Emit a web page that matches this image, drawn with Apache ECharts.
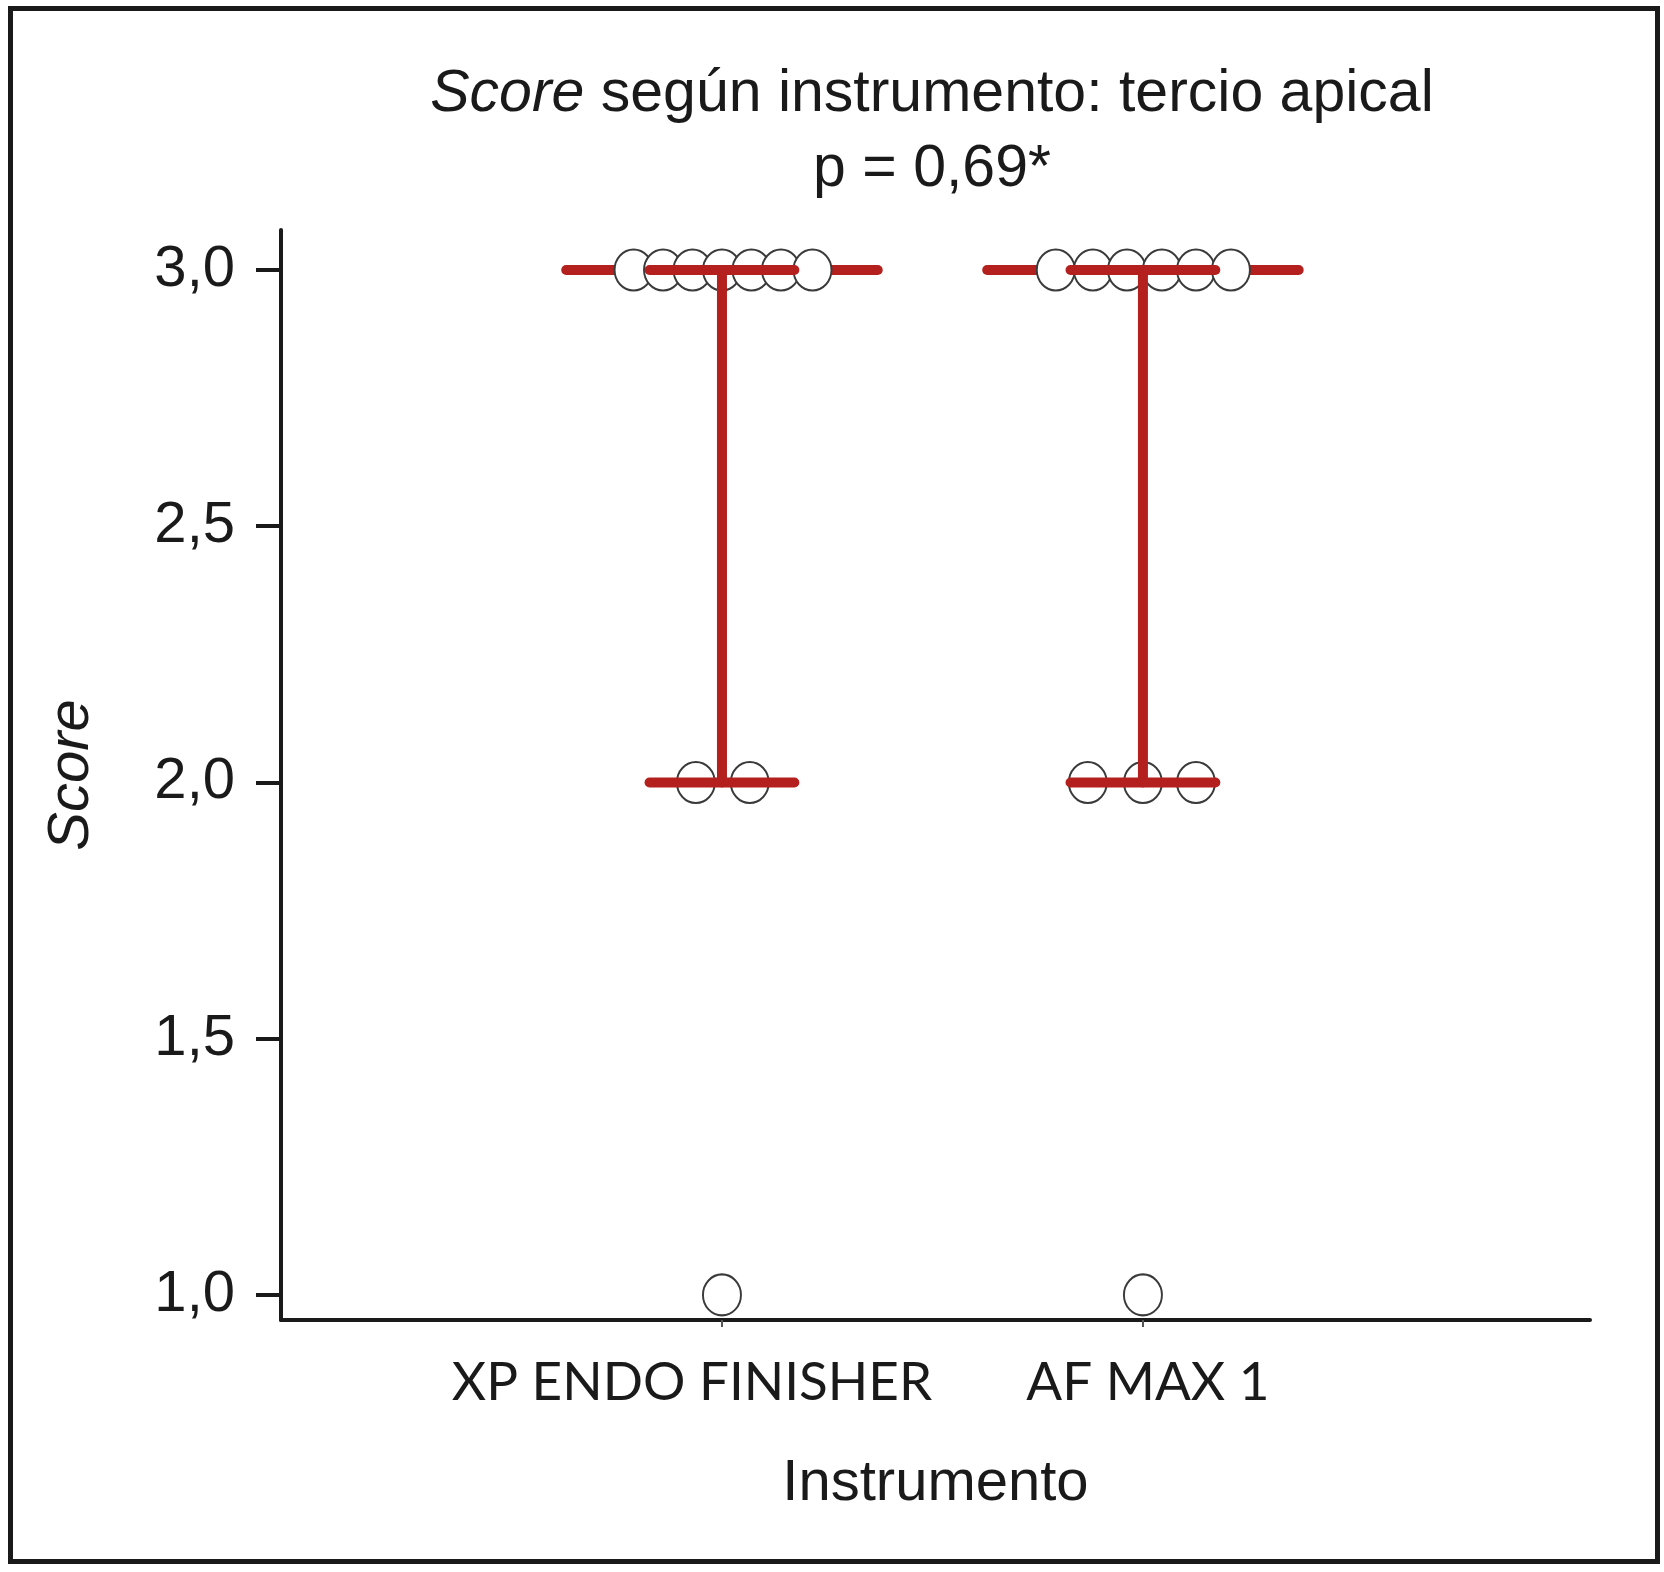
<!DOCTYPE html>
<html>
<head>
<meta charset="utf-8">
<script src="https://cdn.jsdelivr.net/npm/echarts@6/dist/echarts.min.js"></script>
<style>
  html, body { margin: 0; padding: 0; background: #fff; }
  #main { width: 1664px; height: 1572px; }
</style>
</head>
<body>
<div id="main"></div>
<script>
// data //
var categories = ['XP ENDO FINISHER', 'AF MAX 1'];

var xpScores = [3, 3, 3, 3, 3, 3, 3, 2, 2, 1];
var xpJitter = [-0.21, -0.14, -0.07, 0, 0.07, 0.14, 0.215, -0.062, 0.066, 0];

var afScores = [3, 3, 3, 3, 3, 3, 2, 2, 2, 1];
var afJitter = [-0.207, -0.119, -0.038, 0.045, 0.126, 0.209, -0.131, 0, 0.126, 0];

var medians = [3, 3];
var q1 = [2, 2];
var q3 = [3, 3];

var yTicks = [1.0, 1.5, 2.0, 2.5, 3.0];
// data end //

var RED = '#b3201d';
var INK = '#1a1a1a';

function initChart() {

    var myChart = echarts.init(document.getElementById('main'));

    var points = [];
    xpScores.forEach(function (s, i) { points.push([1 + xpJitter[i], s]); });
    afScores.forEach(function (s, i) { points.push([2 + afJitter[i], s]); });

    var summary = categories.map(function (c, i) {
        return [i + 1, medians[i], q1[i], q3[i]];
    });

    var option = {
        backgroundColor: '#fff',
        animation: false,
        title: {
            text: '{i|Score} según instrumento: tercio apical\np = 0,69*',
            left: 932,
            top: 57,
            textAlign: 'center',
            padding: 0,
            textStyle: {
                fontFamily: 'Liberation Sans',
                fontSize: 59,
                fontWeight: 'normal',
                color: INK,
                lineHeight: 75,
                rich: {
                    i: {
                        fontFamily: 'Liberation Sans',
                        fontSize: 59,
                        fontStyle: 'italic',
                        color: INK,
                        lineHeight: 75
                    }
                }
            }
        },
        grid: {
            left: 281,
            right: 74,
            top: 230,
            bottom: 252
        },
        xAxis: {
            type: 'value',
            min: -0.0475,
            max: 3.062,
            name: 'Instrumento',
            nameLocation: 'middle',
            nameGap: 135,
            nameTextStyle: {
                fontFamily: 'Liberation Sans',
                fontSize: 58,
                color: INK,
                lineHeight: 58
            },
            splitLine: { show: false },
            axisLine: {
                onZero: false,
                lineStyle: { color: INK, width: 4 }
            },
            axisTick: {
                show: true,
                customValues: [1, 2],
                length: 7,
                lineStyle: { color: '#555', width: 2 }
            },
            axisLabel: {
                customValues: [1, 2],
                margin: 33,
                formatter: function (v) {
                    if (Math.round(v) === 1) return '{xp|' + categories[0] + '}';
                    return '{af|' + categories[1] + '}';
                },
                rich: {
                    xp: {
                        fontFamily: 'Lato',
                        fontSize: 53,
                        color: INK,
                        lineHeight: 60,
                        padding: [0, 60, 0, 0]
                    },
                    af: {
                        fontFamily: 'Lato',
                        fontSize: 53,
                        color: INK,
                        lineHeight: 60,
                        padding: [0, 0, 0, 10]
                    }
                }
            }
        },
        yAxis: {
            type: 'value',
            min: 0.951,
            max: 3.078,
            name: 'Score',
            nameLocation: 'middle',
            nameGap: 179,
            nameTextStyle: {
                fontFamily: 'Liberation Sans',
                fontSize: 58,
                fontStyle: 'italic',
                color: INK,
                lineHeight: 60
            },
            splitLine: { show: false },
            axisLine: {
                show: true,
                onZero: false,
                lineStyle: { color: INK, width: 4 }
            },
            axisTick: {
                show: true,
                customValues: yTicks,
                length: 25,
                lineStyle: { color: INK, width: 4 }
            },
            axisLabel: {
                customValues: yTicks,
                margin: 46,
                fontFamily: 'Liberation Sans',
                fontSize: 58,
                color: INK,
                formatter: function (v) {
                    return v.toFixed(1).replace('.', ',');
                }
            }
        },
        series: [
            {
                // median line, behind the points
                name: 'Mediana',
                type: 'custom',
                z: 1,
                data: summary,
                renderItem: function (params, api) {
                    var x = api.value(0);
                    var m = api.value(1);
                    var a = api.coord([x - 0.37, m]);
                    var b = api.coord([x + 0.37, m]);
                    return {
                        type: 'line',
                        shape: { x1: a[0], y1: a[1], x2: b[0], y2: b[1] },
                        style: { stroke: RED, lineWidth: 10, lineCap: 'round' }
                    };
                }
            },
            {
                name: 'Score',
                type: 'scatter',
                z: 2,
                data: points,
                symbol: 'circle',
                symbolSize: [38, 41],
                itemStyle: {
                    color: '#fff',
                    borderColor: '#3a3a3a',
                    borderWidth: 2,
                    opacity: 1
                }
            },
            {
                // interquartile range, drawn over the points
                name: 'RIC',
                type: 'custom',
                z: 3,
                data: summary,
                renderItem: function (params, api) {
                    var x = api.value(0);
                    var lo = api.value(2);
                    var hi = api.value(3);
                    var style = { stroke: RED, lineWidth: 10, lineCap: 'round' };
                    var tl = api.coord([x - 0.172, hi]);
                    var tr = api.coord([x + 0.172, hi]);
                    var bl = api.coord([x - 0.172, lo]);
                    var br = api.coord([x + 0.172, lo]);
                    var st = api.coord([x, hi]);
                    var sb = api.coord([x, lo]);
                    return {
                        type: 'group',
                        children: [
                            { type: 'line', shape: { x1: st[0], y1: st[1], x2: sb[0], y2: sb[1] }, style: style },
                            { type: 'line', shape: { x1: tl[0], y1: tl[1], x2: tr[0], y2: tr[1] }, style: style },
                            { type: 'line', shape: { x1: bl[0], y1: bl[1], x2: br[0], y2: br[1] }, style: style }
                        ]
                    };
                }
            }
        ],
        graphic: [{
            type: 'rect',
            shape: { x: 10.5, y: 8.5, width: 1647, height: 1553 },
            style: { fill: null, stroke: INK, lineWidth: 5 },
            silent: true
        }]
    };

    myChart.setOption(option);
}

initChart();
</script>
</body>
</html>
